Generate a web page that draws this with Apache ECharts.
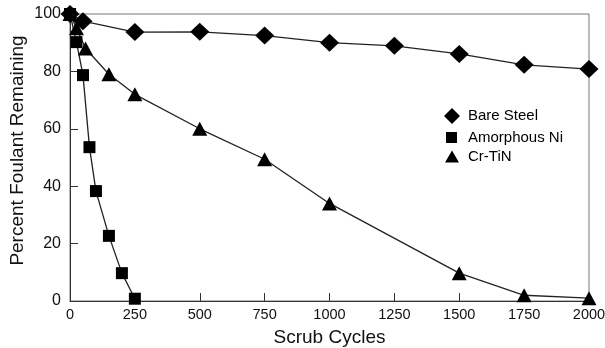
<!DOCTYPE html>
<html><head><meta charset="utf-8">
<script src="https://cdn.jsdelivr.net/npm/echarts@6/dist/echarts.min.js"></script>
<style>html,body{margin:0;padding:0;background:#fff}#c{width:605px;height:348px}</style>
</head><body><div id="c"></div>
<script>
var xTicks = [0, 250, 500, 750, 1000, 1250, 1500, 1750, 2000];
var yTicks = [0, 20, 40, 60, 80, 100];
var bareSteelX = [0, 50, 250, 500, 750, 1000, 1250, 1500, 1750, 2000];
var bareSteelY = [100, 97.5, 93.7, 93.8, 92.5, 90, 88.9, 86.1, 82.3, 80.8];
var niX = [0, 25, 50, 75, 100, 150, 200, 250];
var niY = [100, 90.2, 78.7, 53.6, 38.3, 22.7, 9.7, 0.8];
var crX = [0, 25, 60, 150, 250, 500, 750, 1000, 1500, 1750, 2000];
var crY = [100, 95, 88, 79, 72, 60, 49.4, 34, 9.7, 2, 1];
var names = ['Bare Steel', 'Amorphous Ni', 'Cr-TiN'];

function pairs(xs, ys){ return xs.map(function(x,i){ return [x, ys[i]]; }); }
var font = 'Liberation Sans, Arial, Helvetica, sans-serif';
var chart = echarts.init(document.getElementById('c'), null, {renderer:'canvas'});
function ser(name, xs, ys, sym, size){
  return {name:name, type:'line', data:pairs(xs,ys), symbol:sym, symbolSize:size,
    showAllSymbol:true, clip:false,
    lineStyle:{color:'#222', width:1.3}, itemStyle:{color:'#000'}};
}
function leg(name, icon, left, top, w, h, pad){
  return {left:left, top:top, padding:0, itemWidth:w, itemHeight:h, icon:icon,
    data:[name], itemStyle:{color:'#000'},
    textStyle:{fontFamily:font, fontSize:15, color:'#000', padding:[0,0,0,pad]}};
}
chart.setOption({
  animation:false,
  backgroundColor:'#fff',
  grid:{left:70, right:16, top:14, bottom:47, show:true, borderColor:'#777', borderWidth:1,
    containLabel:false, outerBoundsMode:'none'},
  legend:[
    leg(names[0], 'diamond', 444, 108, 16, 16, 3),
    leg(names[1], 'rect', 446, 130, 11, 11, 6),
    leg(names[2], 'triangle', 445, 149, 14, 12, 4)
  ],
  xAxis:{type:'value', min:0, max:2000, interval:250,
    name:'Scrub Cycles', nameLocation:'middle', nameGap:27,
    nameTextStyle:{fontFamily:font, fontSize:19, color:'#111'},
    axisLine:{lineStyle:{color:'#333', width:1}},
    axisTick:{inside:true, length:8, lineStyle:{color:'#333'}},
    axisLabel:{fontFamily:font, fontSize:14.5, color:'#111', margin:6,
      formatter:function(v){ return String(v); }},
    splitLine:{show:false}},
  yAxis:{type:'value', min:0, max:100, interval:20,
    name:'Percent Foulant Remaining', nameLocation:'middle', nameGap:43,
    nameMoveOverlap:false,
    nameTextStyle:{fontFamily:font, fontSize:19, color:'#111', padding:[0,0,0,14]},
    axisLine:{show:true, lineStyle:{color:'#333', width:1}},
    axisTick:{show:true, inside:true, length:8, lineStyle:{color:'#333'}},
    axisLabel:{fontFamily:font, fontSize:16, color:'#111', margin:9},
    splitLine:{show:false}},
  series:[
    ser(names[0], bareSteelX, bareSteelY, 'diamond', [19,18]),
    ser(names[1], niX, niY, 'rect', 12),
    ser(names[2], crX, crY, 'triangle', [15,14])
  ]
});
</script></body></html>
